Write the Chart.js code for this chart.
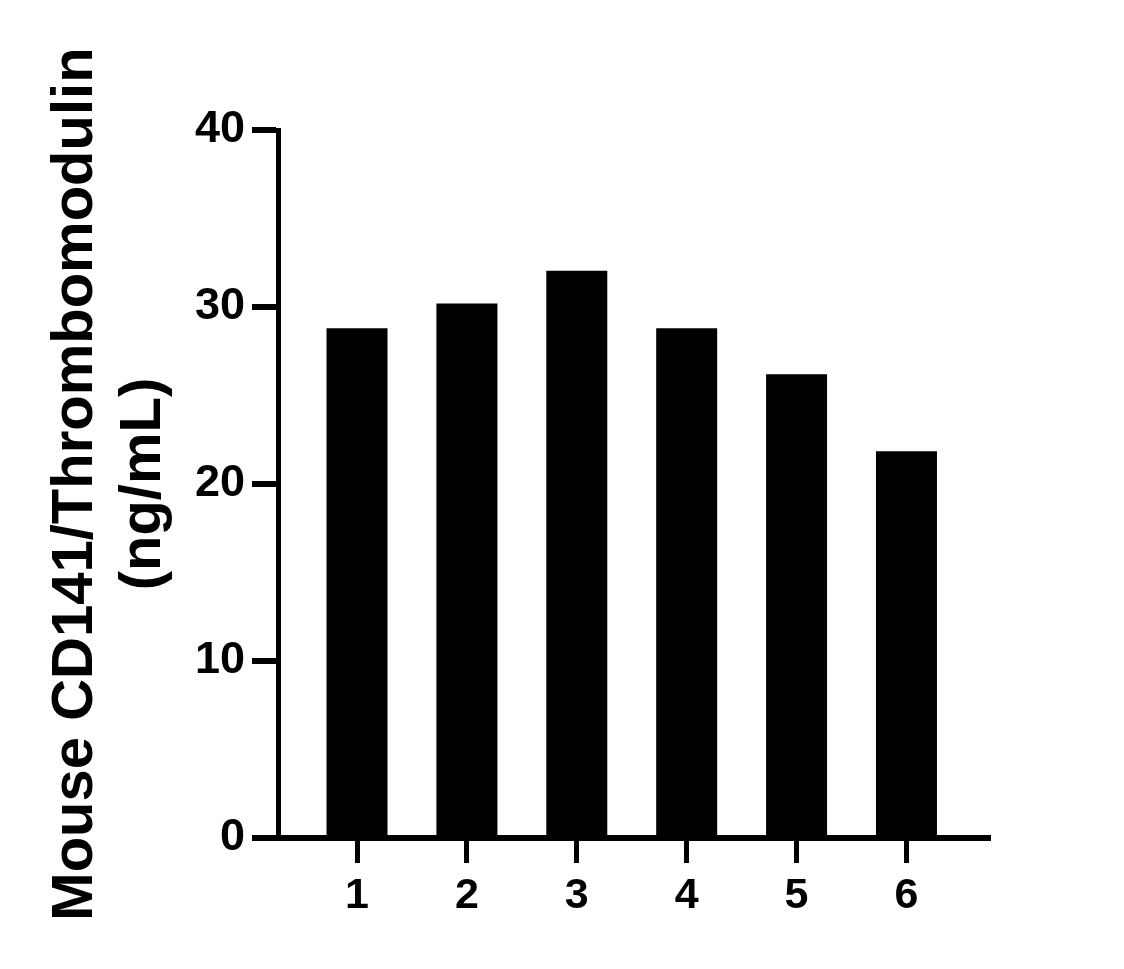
<!DOCTYPE html>
<html>
<head>
<meta charset="utf-8">
<script src="https://cdn.jsdelivr.net/npm/chart.js@4.4.0/dist/chart.umd.min.js"></script>
<style>
  html, body { margin: 0; padding: 0; background: #fff; }
  #wrap { width: 1124px; height: 969px; }
</style>
</head>
<body>
<div id="wrap"><canvas id="c" width="1124" height="969"></canvas></div>
<script>
const categories = [1, 2, 3, 4, 5, 6];
const values = [28.8, 30.2, 32.05, 28.8, 26.2, 21.85];
const yTicks = [0, 10, 20, 30, 40];
const yTitle = ['Mouse CD141/Thrombomodulin', '(ng/mL)'];

const FONT = "'Liberation Sans', Arial, Helvetica, sans-serif";

new Chart(document.getElementById('c'), {
  type: 'bar',
  data: {
    datasets: [{
      data: categories.map((c, i) => ({ x: c, y: values[i] })),
      backgroundColor: '#000',
      borderWidth: 0,
      barPercentage: 0.555,
      categoryPercentage: 1.0
    }]
  },
  options: {
    responsive: false,
    devicePixelRatio: 1,
    animation: false,
    layout: { padding: { left: 0, top: 130, right: 136, bottom: 0 } },
    plugins: { legend: { display: false }, tooltip: { enabled: false } },
    scales: {
      x: {
        type: 'linear',
        offset: false,
        min: 0.281,
        max: 6.742,
        afterBuildTicks: s => { s.ticks = categories.map(v => ({ value: v })); },
        afterFit: s => { s.height = 131; },
        border: { display: true, color: '#000', width: 6 },
        grid: { offset: false, drawOnChartArea: false, drawTicks: true, tickLength: 25, lineWidth: 5, color: '#000' },
        ticks: {
          color: '#000', padding: 7, maxRotation: 0, autoSkip: false,
          font: { family: FONT, size: 43, weight: 'bold' },
          callback: v => String(v)
        }
      },
      y: {
        min: 0,
        max: 40,
        afterBuildTicks: s => { s.ticks = yTicks.map(v => ({ value: v })); },
        afterFit: s => { s.width = 278; },
        border: { display: true, color: '#000', width: 5 },
        grid: { drawOnChartArea: false, drawTicks: true, tickLength: 26, lineWidth: 6, color: '#000' },
        ticks: {
          color: '#000', padding: 7,
          font: { family: FONT, size: 45, weight: 'bold' }
        },
        title: {
          display: true,
          text: yTitle,
          color: '#000',
          padding: { top: 42, bottom: 0 },
          font: { family: FONT, size: 58, weight: 'bold', lineHeight: 1.17 }
        }
      }
    }
  }
});
</script>
</body>
</html>
